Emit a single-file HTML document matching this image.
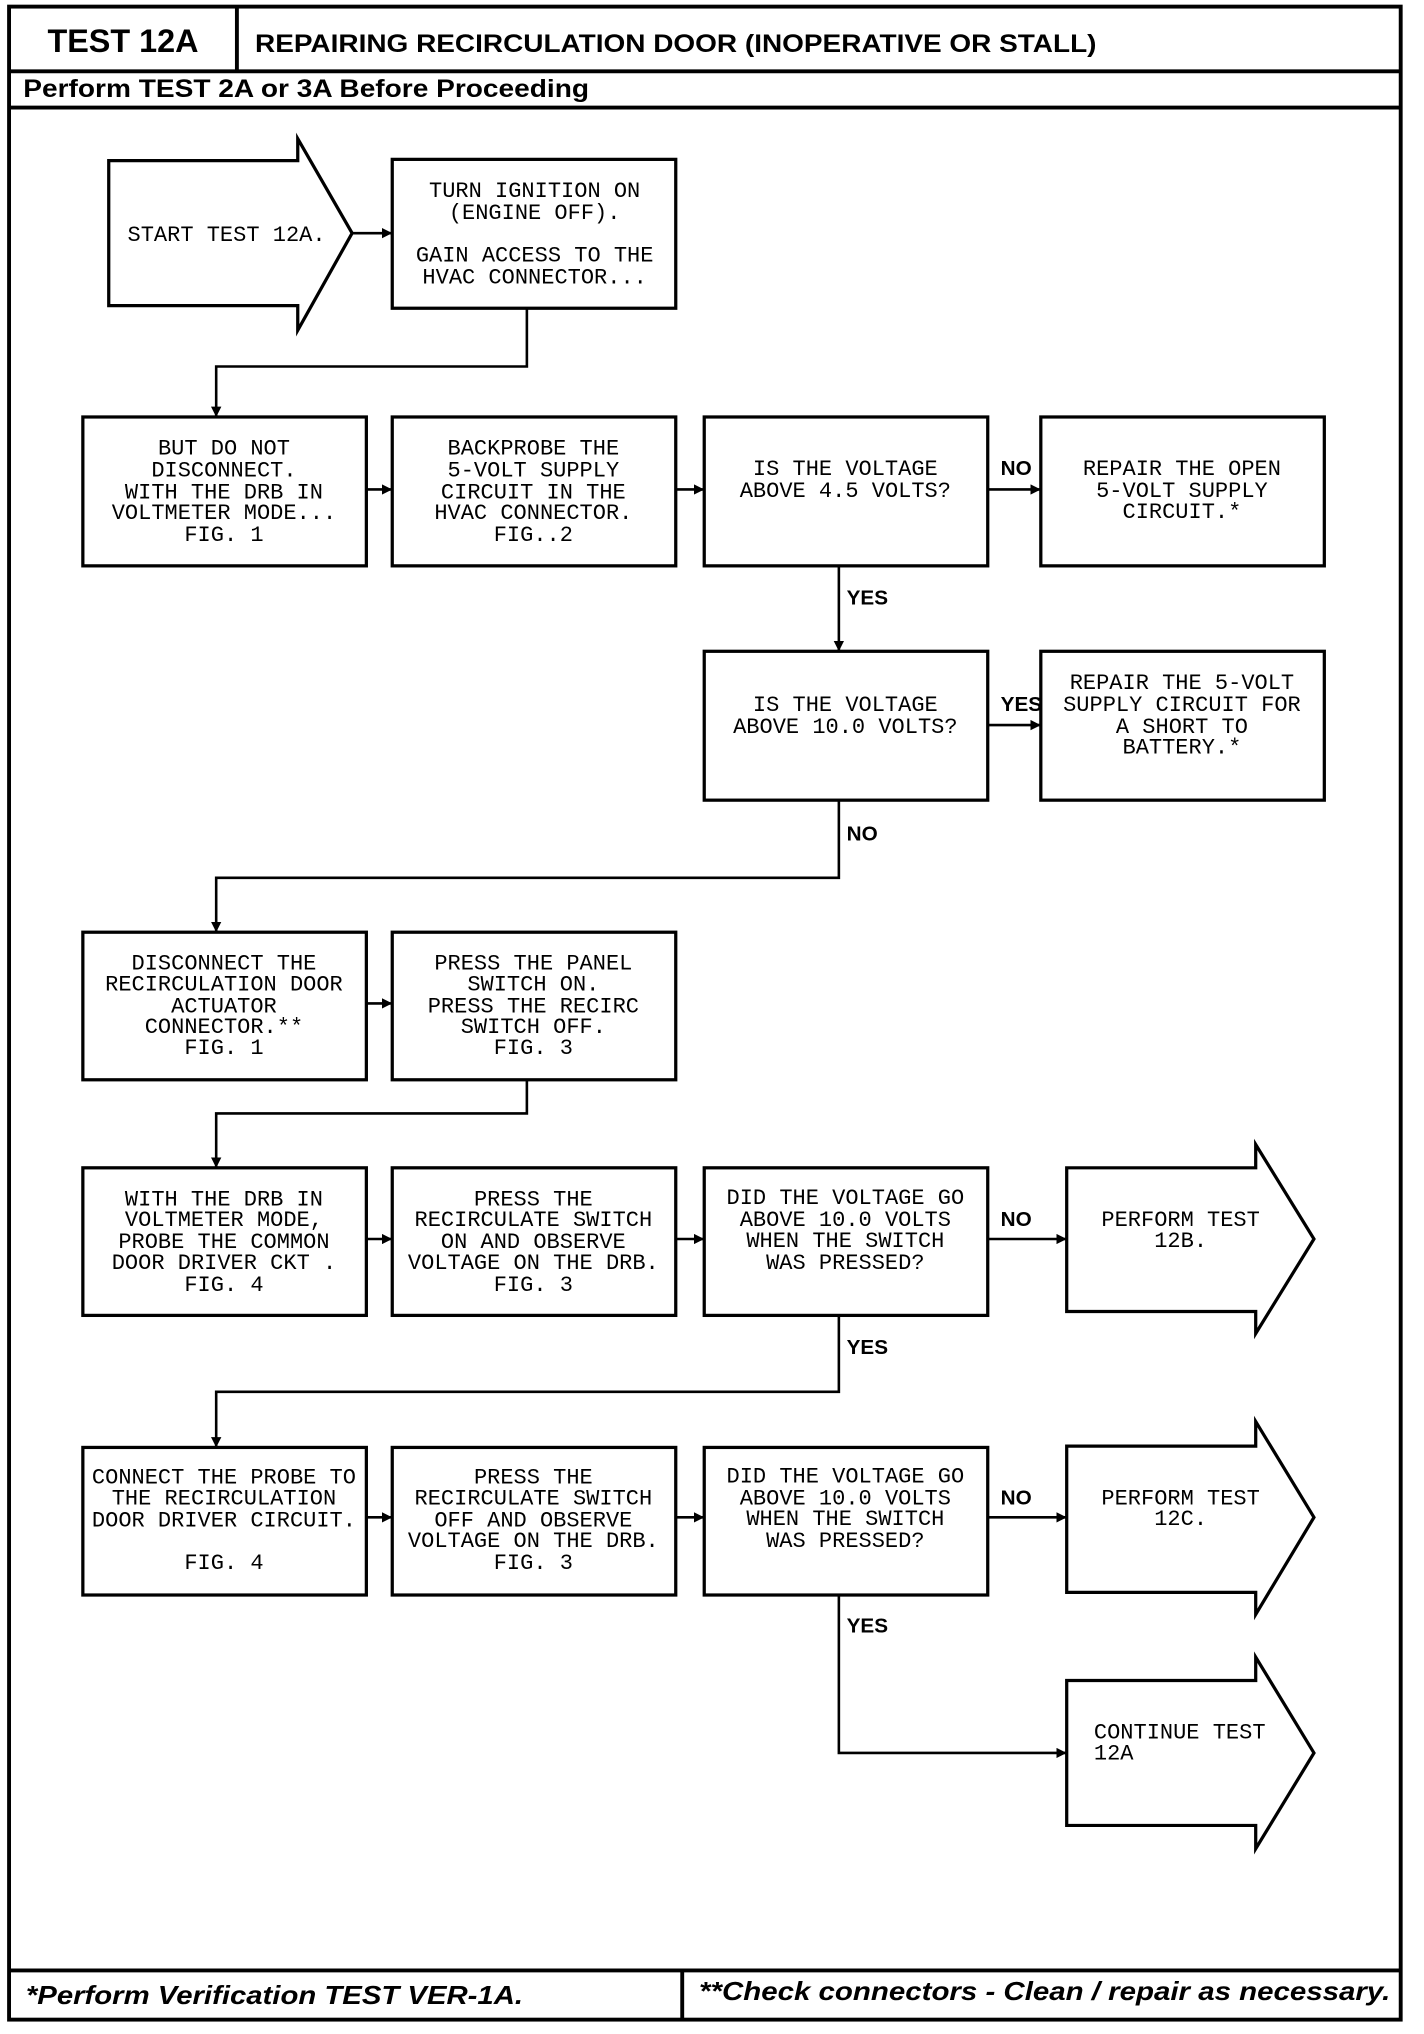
<!DOCTYPE html>
<html><head><meta charset="utf-8"><style>
html,body{margin:0;padding:0;background:#fff;}
svg{display:block;}
.t{font-family:"Liberation Mono",monospace;font-size:17px;fill:#000;}
.l{font-family:"Liberation Sans",sans-serif;font-size:16px;font-weight:bold;fill:#000;}
</style></head><body>
<svg width="1424" height="2034" viewBox="0 0 1100 1571" xmlns="http://www.w3.org/2000/svg">
<defs><marker id="a" viewBox="0 0 10 10" refX="10" refY="5" markerWidth="4" markerHeight="4" orient="auto"><path d="M0,0L10,5L0,10z" fill="#000"/></marker></defs>
<g fill="none" stroke="#000" stroke-width="3">
<rect x="7" y="5" width="1075" height="1555"/>
<line x1="7" y1="55" x2="1082" y2="55"/>
<line x1="183" y1="5" x2="183" y2="55"/>
<line x1="7" y1="83" x2="1082" y2="83"/>
<line x1="7" y1="1522" x2="1082" y2="1522"/>
<line x1="527" y1="1522" x2="527" y2="1560"/>
</g>
<text x="95" y="40" text-anchor="middle" style="font-family:'Liberation Sans',sans-serif;font-weight:bold;font-size:25px">TEST 12A</text>
<text x="197" y="40" style="font-family:'Liberation Sans',sans-serif;font-weight:bold;font-size:19px" textLength="650" lengthAdjust="spacingAndGlyphs">REPAIRING RECIRCULATION DOOR (INOPERATIVE OR STALL)</text>
<text x="18" y="75" style="font-family:'Liberation Sans',sans-serif;font-weight:bold;font-size:19px" textLength="437" lengthAdjust="spacingAndGlyphs">Perform TEST 2A or 3A Before Proceeding</text>
<text x="20" y="1548" style="font-family:'Liberation Sans',sans-serif;font-weight:bold;font-style:italic;font-size:20px" textLength="384" lengthAdjust="spacingAndGlyphs">*Perform Verification TEST VER-1A.</text>
<text x="540" y="1545" style="font-family:'Liberation Sans',sans-serif;font-weight:bold;font-style:italic;font-size:20px" textLength="534" lengthAdjust="spacingAndGlyphs">**Check connectors - Clean / repair as necessary.</text>

<g fill="none" stroke="#000" stroke-width="2.5">
<path d="M84,124H230V107L272,180L230,255V236H84Z"/>
<rect x="303" y="123" width="219" height="115"/>
<rect x="64" y="322" width="219" height="115"/>
<rect x="303" y="322" width="219" height="115"/>
<rect x="544" y="322" width="219" height="115"/>
<rect x="804" y="322" width="219" height="115"/>
<rect x="544" y="503" width="219" height="115"/>
<rect x="804" y="503" width="219" height="115"/>
<rect x="64" y="720" width="219" height="114"/>
<rect x="303" y="720" width="219" height="114"/>
<rect x="64" y="902" width="219" height="114"/>
<rect x="303" y="902" width="219" height="114"/>
<rect x="544" y="902" width="219" height="114"/>
<path d="M824,902H970V884L1015,957L970,1030V1013H824Z"/>
<rect x="64" y="1118" width="219" height="114"/>
<rect x="303" y="1118" width="219" height="114"/>
<rect x="544" y="1118" width="219" height="114"/>
<path d="M824,1117H970V1098L1015,1172L970,1247V1230H824Z"/>
<path d="M824,1298H970V1280L1015,1354L970,1428V1410H824Z"/>
</g>
<g fill="none" stroke="#000" stroke-width="2" marker-end="url(#a)">
<line x1="272" y1="180" x2="303" y2="180"/>
<path d="M407,238V283H167V322"/>
<line x1="283" y1="378" x2="303" y2="378"/>
<line x1="522" y1="378" x2="544" y2="378"/>
<line x1="763" y1="378" x2="804" y2="378"/>
<line x1="648" y1="437" x2="648" y2="503"/>
<line x1="763" y1="560" x2="804" y2="560"/>
<path d="M648,618V678H167V720"/>
<line x1="283" y1="775" x2="303" y2="775"/>
<path d="M407,834V860H167V902"/>
<line x1="283" y1="957" x2="303" y2="957"/>
<line x1="522" y1="957" x2="544" y2="957"/>
<line x1="763" y1="957" x2="824" y2="957"/>
<path d="M648,1016V1075H167V1118"/>
<line x1="283" y1="1172" x2="303" y2="1172"/>
<line x1="522" y1="1172" x2="544" y2="1172"/>
<line x1="763" y1="1172" x2="824" y2="1172"/>
<path d="M648,1232V1354H824"/>
</g>
<g class="l">
<text x="773" y="367">NO</text>
<text x="654" y="467">YES</text>
<text x="773" y="549">YES</text>
<text x="654" y="649">NO</text>
<text x="773" y="947">NO</text>
<text x="654" y="1046">YES</text>
<text x="773" y="1162">NO</text>
<text x="654" y="1261">YES</text>
</g>
<g class="t" text-anchor="middle">
<text x="175" y="186">START TEST 12A.</text>
<text x="413" y="152">TURN IGNITION ON</text>
<text x="413" y="169">(ENGINE OFF).</text>
<text x="413" y="202">GAIN ACCESS TO THE</text>
<text x="413" y="219">HVAC CONNECTOR...</text>
<text x="173" y="351">BUT DO NOT</text>
<text x="173" y="368">DISCONNECT.</text>
<text x="173" y="385">WITH THE DRB IN</text>
<text x="173" y="401">VOLTMETER MODE...</text>
<text x="173" y="418">FIG. 1</text>
<text x="412" y="351">BACKPROBE THE</text>
<text x="412" y="368">5-VOLT SUPPLY</text>
<text x="412" y="385">CIRCUIT IN THE</text>
<text x="412" y="401">HVAC CONNECTOR.</text>
<text x="412" y="418">FIG..2</text>
<text x="653" y="367">IS THE VOLTAGE</text>
<text x="653" y="384">ABOVE 4.5 VOLTS?</text>
<text x="913" y="367">REPAIR THE OPEN</text>
<text x="913" y="384">5-VOLT SUPPLY</text>
<text x="913" y="400">CIRCUIT.*</text>
<text x="653" y="549">IS THE VOLTAGE</text>
<text x="653" y="566">ABOVE 10.0 VOLTS?</text>
<text x="913" y="532">REPAIR THE 5-VOLT</text>
<text x="913" y="549">SUPPLY CIRCUIT FOR</text>
<text x="913" y="566">A SHORT TO</text>
<text x="913" y="582">BATTERY.*</text>
<text x="173" y="749">DISCONNECT THE</text>
<text x="173" y="765">RECIRCULATION DOOR</text>
<text x="173" y="782">ACTUATOR</text>
<text x="173" y="798">CONNECTOR.**</text>
<text x="173" y="814">FIG. 1</text>
<text x="412" y="749">PRESS THE PANEL</text>
<text x="412" y="765">SWITCH ON.</text>
<text x="412" y="782">PRESS THE RECIRC</text>
<text x="412" y="798">SWITCH OFF.</text>
<text x="412" y="814">FIG. 3</text>
<text x="173" y="931">WITH THE DRB IN</text>
<text x="173" y="947">VOLTMETER MODE,</text>
<text x="173" y="964">PROBE THE COMMON</text>
<text x="173" y="980">DOOR DRIVER CKT .</text>
<text x="173" y="997">FIG. 4</text>
<text x="412" y="931">PRESS THE</text>
<text x="412" y="947">RECIRCULATE SWITCH</text>
<text x="412" y="964">ON AND OBSERVE</text>
<text x="412" y="980">VOLTAGE ON THE DRB.</text>
<text x="412" y="997">FIG. 3</text>
<text x="653" y="930">DID THE VOLTAGE GO</text>
<text x="653" y="947">ABOVE 10.0 VOLTS</text>
<text x="653" y="963">WHEN THE SWITCH</text>
<text x="653" y="980">WAS PRESSED?</text>
<text x="912" y="947">PERFORM TEST</text>
<text x="912" y="963">12B.</text>
<text x="173" y="1146">CONNECT THE PROBE TO</text>
<text x="173" y="1162">THE RECIRCULATION</text>
<text x="173" y="1179">DOOR DRIVER CIRCUIT.</text>
<text x="173" y="1212">FIG. 4</text>
<text x="412" y="1146">PRESS THE</text>
<text x="412" y="1162">RECIRCULATE SWITCH</text>
<text x="412" y="1179">OFF AND OBSERVE</text>
<text x="412" y="1195">VOLTAGE ON THE DRB.</text>
<text x="412" y="1212">FIG. 3</text>
<text x="653" y="1145">DID THE VOLTAGE GO</text>
<text x="653" y="1162">ABOVE 10.0 VOLTS</text>
<text x="653" y="1178">WHEN THE SWITCH</text>
<text x="653" y="1195">WAS PRESSED?</text>
<text x="912" y="1162">PERFORM TEST</text>
<text x="912" y="1178">12C.</text>
</g>
<g class="t">
<text x="845" y="1343">CONTINUE TEST</text>
<text x="845" y="1359">12A</text>
</g>
</svg>
</body></html>
